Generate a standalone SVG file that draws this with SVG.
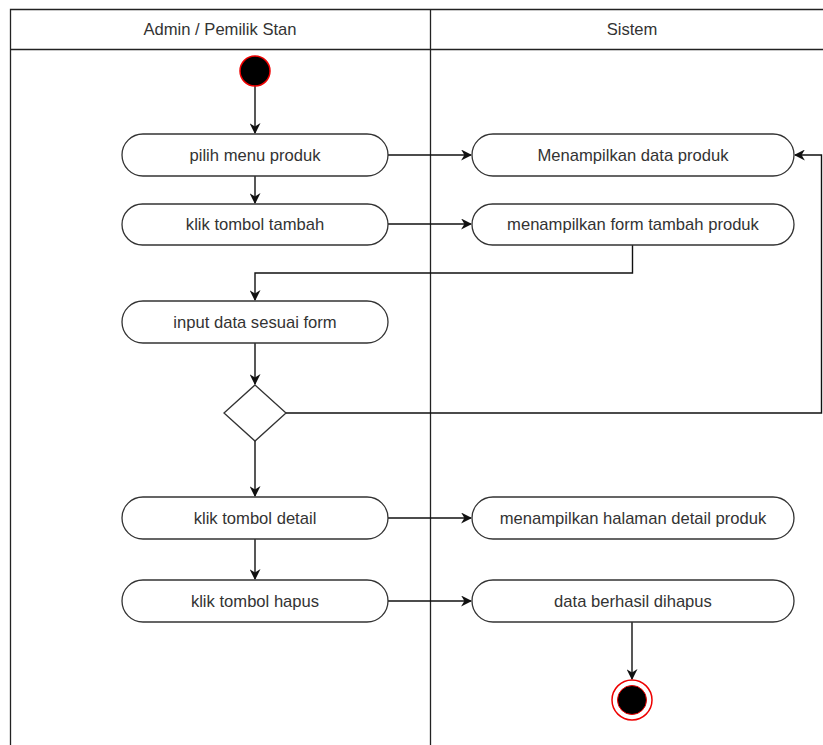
<svg xmlns="http://www.w3.org/2000/svg" width="823" height="745" viewBox="0 0 823 745">
<defs>
<style>
.lane{fill:none;stroke:#222;stroke-width:1.3}
.act{fill:#fff;stroke:#333;stroke-width:1.3}
.t{font-family:"Liberation Sans",Arial,sans-serif;font-size:16.6px;fill:#333;text-anchor:middle;dominant-baseline:central}
.c{fill:none;stroke:#111;stroke-width:1.4;marker-end:url(#ah)}
</style>
<marker id="ah" viewBox="0 0 10 10" refX="9" refY="5" markerWidth="11" markerHeight="11" markerUnits="userSpaceOnUse" orient="auto">
<path d="M0,0 L10,5 L0,10 L3,5 Z" fill="#111"/>
</marker>
</defs>
<rect width="823" height="745" fill="#fff"/>
<g id="lanes">
<path class="lane" d="M10.5,745 V9.5 H823 M10.5,49.5 H823 M430.5,9.5 V745"/>
<text class="t" x="220" y="29">Admin / Pemilik Stan</text>
<text class="t" x="632" y="29">Sistem</text>
</g>
<g id="connectors">
<path class="c" d="M255,86 V133"/>
<path class="c" d="M255,176 V203"/>
<path class="c" d="M388,155 H471"/>
<path class="c" d="M388,224 H471"/>
<path class="c" d="M632.5,245 V273 H255 V300"/>
<path class="c" d="M255,343 V384"/>
<path class="c" d="M286,413 H821.5 V155 H795"/>
<path class="c" d="M255,441 V496"/>
<path class="c" d="M255,539 V579"/>
<path class="c" d="M388,518 H471"/>
<path class="c" d="M388,601 H471"/>
<path class="c" d="M632,622 V679"/>
</g>
<g id="start"><circle cx="255" cy="71" r="15" fill="#000" stroke="#e00" stroke-width="1.5"/></g>
<g id="n1"><rect class="act" x="122" y="134" width="266" height="42" rx="21"/><text class="t" x="255" y="155">pilih menu produk</text></g>
<g id="n2"><rect class="act" x="122" y="204" width="266" height="41" rx="20.5"/><text class="t" x="255" y="224.5">klik tombol tambah</text></g>
<g id="s1"><rect class="act" x="472" y="134" width="322" height="42" rx="21"/><text class="t" x="633" y="155">Menampilkan data produk</text></g>
<g id="s2"><rect class="act" x="472" y="204" width="322" height="41" rx="20.5"/><text class="t" x="633" y="224.5">menampilkan form tambah produk</text></g>
<g id="n3"><rect class="act" x="122" y="301" width="266" height="42" rx="21"/><text class="t" x="255" y="322">input data sesuai form</text></g>
<g id="decision"><path class="act" d="M255,385 L286,413 L255,441 L224,413 Z"/></g>
<g id="n4"><rect class="act" x="122" y="497" width="266" height="42" rx="21"/><text class="t" x="255" y="518">klik tombol detail</text></g>
<g id="s3"><rect class="act" x="472" y="497" width="322" height="42" rx="21"/><text class="t" x="633" y="518">menampilkan halaman detail produk</text></g>
<g id="n5"><rect class="act" x="122" y="580" width="266" height="42" rx="21"/><text class="t" x="255" y="601">klik tombol hapus</text></g>
<g id="s4"><rect class="act" x="472" y="580" width="322" height="42" rx="21"/><text class="t" x="633" y="601">data berhasil dihapus</text></g>
<g id="end"><circle cx="632" cy="700" r="20" fill="#fff" stroke="#e00" stroke-width="1.5"/><circle cx="632" cy="700" r="14.5" fill="#000" stroke="#e00" stroke-width="1"/></g>
</svg>
